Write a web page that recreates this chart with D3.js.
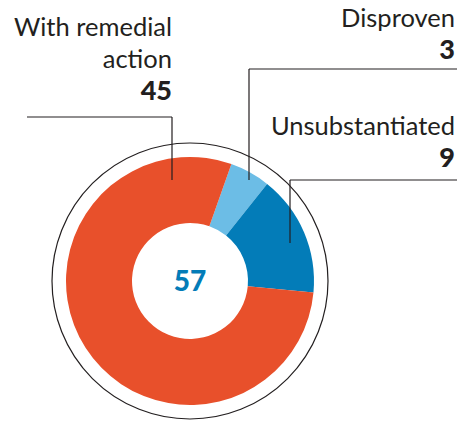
<!DOCTYPE html>
<html>
<head>
<meta charset="utf-8">
<script src="https://cdn.jsdelivr.net/npm/d3@7"></script>
<style>
  html, body { margin: 0; padding: 0; background: #fff; }
  svg { display: block; }
  text { font-family: Lato, "Open Sans", sans-serif; fill: #231f20; }
</style>
</head>
<body>
<div id="chart"></div>
<script>
// data
var categories = ["Disproven", "Unsubstantiated", "With remedial action"]
var values = [3, 9, 45]
var total = 57

// label lines for each category (text lines, value shown below)
var labelLines = [["Disproven"], ["Unsubstantiated"], ["With remedial", "action"]]

var width = 466, height = 421
var cx = 190, cy = 281
var outerR = 124, innerR = 58, ringR = 138

var colour = d3.scaleOrdinal()
  .domain(categories)
  .range(["#6cbde6", "#037cb8", "#e8502b"])

var svg = d3.select("#chart").append("svg")
  .attr("width", width)
  .attr("height", height)

var g = svg.append("g").attr("transform", `translate(${cx},${cy})`)

// outline ring
g.append("circle")
  .attr("r", ringR)
  .attr("fill", "none")
  .attr("stroke", "#231f20")
  .attr("stroke-width", 1.2)

var start = 19.5 * Math.PI / 180

var pie = d3.pie()
  .sort(null)
  .startAngle(start)
  .endAngle(start + 2 * Math.PI)

var arc = d3.arc().innerRadius(innerR).outerRadius(outerR)

g.selectAll("path.slice")
  .data(pie(values))
  .join("path")
  .attr("class", "slice")
  .attr("d", arc)
  .attr("fill", (d, i) => colour(categories[i]))

g.append("text")
  .attr("text-anchor", "middle")
  .attr("y", 10)
  .style("font-size", "28px")
  .style("font-weight", "900")
  .style("fill", "#037cb8")
  .text(total)

// label placement (page coords): right edge of text, baseline of first line,
// leader line: horizontal y, x from..to, vertical x down to y end
var layout = [
  { x: 455, y: 27, lineY: 69, x0: 249, x1: 457, vx: 249, vy: 180 },
  { x: 455, y: 135, lineY: 180, x0: 290, x1: 457, vx: 290, vy: 243 },
  { x: 172, y: 36, lineY: 117, x0: 27, x1: 172, vx: 172, vy: 180 }
]

categories.forEach((c, i) => {
  var l = layout[i]
  var t = svg.append("text")
    .attr("text-anchor", "end")
    .style("font-size", "25.5px")
  labelLines[i].forEach((s, j) => {
    t.append("tspan").attr("x", l.x).attr("y", l.y + j * 32).text(s)
  })
  svg.append("text")
    .attr("text-anchor", "end")
    .attr("x", l.x)
    .attr("y", l.y + labelLines[i].length * 32)
    .style("font-size", "27px")
    .style("font-weight", "900")
    .text(values[i])

  svg.append("path")
    .attr("d", `M${l.x0},${l.lineY}H${l.x1}` + (i === 2 ? `M${l.x1},${l.lineY}V${l.vy}` : `M${l.vx},${l.lineY}V${l.vy}`))
    .attr("fill", "none")
    .attr("stroke", "#231f20")
    .attr("stroke-width", 1.2)
})
</script>
</body>
</html>
